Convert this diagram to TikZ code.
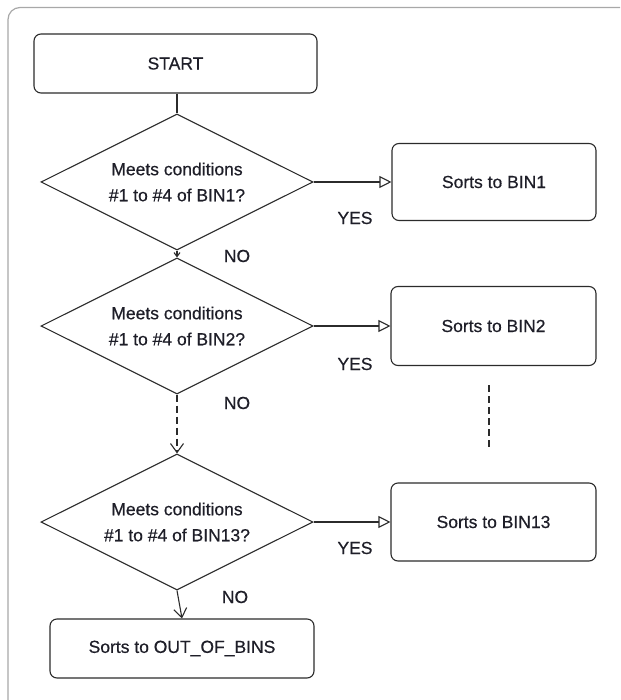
\documentclass[tikz,border=0pt]{standalone}
\usepackage{fontspec}
\setmainfont{Liberation Sans}[FakeBold=0.5]
\usetikzlibrary{shapes.geometric,arrows.meta}
\definecolor{txtcol}{HTML}{1E1E28}
\definecolor{linecol}{HTML}{2B2B2B}
\definecolor{framecol}{HTML}{A8A8A8}

\begin{document}
\begin{tikzpicture}[x=1pt,y=-1pt,
  font=\fontsize{17.5}{26}\selectfont,
  every node/.style={text=txtcol},
  box/.style={draw=linecol,line width=1.1pt,rounded corners=7pt,inner sep=0pt},
  cond/.style={diamond,aspect=2,draw=linecol,line width=1.1pt,inner sep=0pt,
               minimum width=272pt,minimum height=136pt,align=center},
  yesarrow/.style={draw=linecol,line width=1.1pt,-{Triangle[open,length=12pt,width=12pt]}},
  noarrow/.style={draw=linecol,line width=1.1pt,-{Straight Barb[length=9pt,width=13pt]}},
  dots/.style={draw=linecol,line width=2pt,dash pattern=on 7pt off 4pt}]
  \useasboundingbox (0,0) rectangle (620,700);
  \clip (0,0) rectangle (620,700);
  \draw[framecol,line width=1.2pt,rounded corners=12pt] (8,7.5) rectangle (640,720);

  \node[box,minimum width=283pt,minimum height=59pt] (start) at (175.5,63.5) {START};

  \node[cond] (cond1) at (177,182) {Meets conditions\\\#1 to \#4 of BIN1?};
  \node[cond] (cond2) at (177,326) {Meets conditions\\\#1 to \#4 of BIN2?};
  \node[cond] (cond13) at (177,522) {Meets conditions\\\#1 to \#4 of BIN13?};

  \node[box,minimum width=204pt,minimum height=77pt] (bin1) at (494,182) {Sorts to BIN1};
  \node[box,minimum width=205pt,minimum height=79pt] (bin2) at (493.5,326) {Sorts to BIN2};
  \node[box,minimum width=205pt,minimum height=78pt] (bin13) at (493.5,522) {Sorts to BIN13};
  \node[box,minimum width=264pt,minimum height=59pt] (outbins) at (182,648.5) {Sorts to OUT\_OF\_BINS};

  \node (yes1) at (355,218) {YES};
  \node (yes2) at (355,364) {YES};
  \node (yes13) at (355,548) {YES};
  \node (no1) at (237,256) {NO};
  \node (no2) at (237,403) {NO};
  \node (no13) at (235,597) {NO};

  \coordinate (dotstop) at (489,385);
  \coordinate (dotsbot) at (489,450);

  \draw[draw=linecol,line width=1.1pt] (cond1.north |- start.south) -- (cond1.north);
  \draw[yesarrow] (cond1.east) -- (bin1.west);
  \draw[yesarrow] (cond2.east) -- (bin2.west);
  \draw[yesarrow] (cond13.east) -- (bin13.west);
  \draw[draw=linecol,line width=1.1pt,-{Straight Barb[length=4pt,width=6pt]}] (cond1.south) -- (cond2.north);
  \draw[dots,-{Straight Barb[length=9pt,width=13pt,line width=1.1pt]}] (cond2.south) -- (cond13.north);
  \draw[noarrow] (cond13.south) -- (outbins.north);
  \draw[dots] (dotstop) -- (dotsbot);
\end{tikzpicture}
\end{document}
